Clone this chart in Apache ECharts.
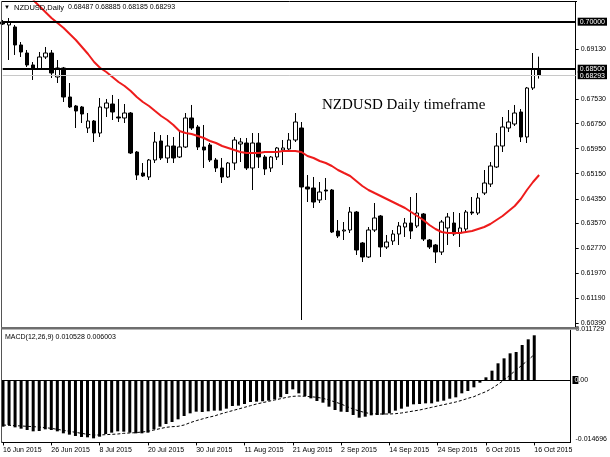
<!DOCTYPE html>
<html><head><meta charset="utf-8">
<script src="https://cdn.jsdelivr.net/npm/echarts@6/dist/echarts.min.js"></script>
<style>html,body{margin:0;padding:0;background:#fff}#c{width:610px;height:457px}</style>
</head><body><div id="c"></div>
<script>
// ---- categories (trading days) ----
const junDays=[16,17,18,19,22,23,24,25,26,29,30];
const julDays=[1,2,3,6,7,8,9,10,13,14,15,16,17,20,21,22,23,24,27,28,29,30,31];
const augDays=[3,4,5,6,7,10,11,12,13,14,17,18,19,20,21,24,25,26,27,28,31];
const sepDays=[1,2,3,4,7,8,9,10,11,14,15,16,17,18,21,22,23,24,25,28,29,30];
const octDays=[1,2,5,6,7,8,9,12,13,14,15,16];
const dates=[].concat(junDays.map(d=>d+' Jun 2015'),julDays.map(d=>d+' Jul 2015'),augDays.map(d=>d+' Aug 2015'),sepDays.map(d=>d+' Sep 2015'),octDays.map(d=>d+' Oct 2015'));
const rightShift=['','','','','',''];
const categories=dates.concat(rightShift);

// ---- price data ----
const open=[0.69990,0.69895,0.69831,0.69257,0.69001,0.68619,0.68491,0.68874,0.69001,0.68236,
0.68523,0.67598,0.67311,0.67279,0.66609,0.66832,0.66449,0.67247,0.67374,0.66960,
0.66928,0.67087,0.65843,0.65173,0.65046,0.65588,0.66194,0.65652,0.66035,0.65684,
0.66003,0.66928,0.66641,0.66003,0.66067,0.65588,0.65333,0.65046,0.65492,0.66098,
0.66130,0.65333,0.66130,0.65684,0.65333,0.65684,0.65907,0.65939,0.66226,0.66609,
0.64727,0.64695,0.64312,0.64631,0.64631,0.63323,0.63323,0.63355,0.63929,0.62941,
0.62494,0.63355,0.63802,0.62813,0.63004,0.63227,0.63451,0.63578,0.63483,0.63866,
0.63036,0.62877,0.62653,0.63419,0.63578,0.63259,0.63387,0.63929,0.63897,0.64535,
0.64822,0.65365,0.66035,0.66609,0.66736,0.67119,0.66322,0.67885,0.68487];
const close=[0.69926,0.69990,0.69257,0.69033,0.68619,0.68523,0.68874,0.69001,0.68363,0.68523,
0.67598,0.67279,0.67151,0.67055,0.66832,0.66449,0.67279,0.67406,0.67119,0.66928,
0.67087,0.65811,0.65109,0.65078,0.65588,0.66162,0.65652,0.66035,0.65652,0.66003,
0.66928,0.66609,0.66003,0.65907,0.65588,0.65333,0.65046,0.65492,0.66226,0.66162,
0.65333,0.66130,0.65684,0.65301,0.65684,0.65971,0.65971,0.66226,0.66800,0.64727,
0.64663,0.64248,0.64567,0.64599,0.63291,0.63164,0.63355,0.63929,0.62717,0.62494,
0.63355,0.63738,0.62813,0.62972,0.63227,0.63483,0.63578,0.63323,0.63897,0.63068,
0.62813,0.62653,0.63610,0.63770,0.63227,0.63419,0.63929,0.63897,0.64376,0.64854,
0.65397,0.66035,0.66641,0.66800,0.67087,0.66322,0.67885,0.68491,0.68293];
const low=[0.69895,0.68778,0.68938,0.68874,0.68555,0.68140,0.68459,0.68810,0.68204,0.68044,
0.67438,0.67247,0.66609,0.66768,0.66449,0.66162,0.66322,0.66960,0.66864,0.66800,
0.66768,0.65779,0.64950,0.65046,0.64950,0.65492,0.65588,0.65492,0.65492,0.65652,
0.65971,0.66545,0.65907,0.65333,0.65524,0.65205,0.64854,0.65014,0.65269,0.65524,
0.65269,0.64631,0.65333,0.65109,0.65205,0.65588,0.65428,0.65843,0.66162,0.60484,
0.64248,0.64057,0.64216,0.64312,0.63259,0.63100,0.63036,0.63259,0.62558,0.62334,
0.62462,0.63291,0.62494,0.62749,0.62877,0.62877,0.63132,0.63068,0.63419,0.63004,
0.62749,0.62302,0.62558,0.62877,0.63164,0.62813,0.63291,0.63834,0.63834,0.64471,
0.64727,0.65333,0.65843,0.66481,0.66673,0.66162,0.66130,0.67821,0.68185];
const high=[0.70054,0.70118,0.69895,0.69352,0.69097,0.68714,0.69033,0.69193,0.69097,0.68778,
0.68555,0.68044,0.67343,0.67311,0.67087,0.66864,0.67566,0.67534,0.67662,0.67534,
0.67374,0.67119,0.65875,0.65492,0.65620,0.66481,0.66385,0.66385,0.66322,0.66481,
0.67087,0.67343,0.66705,0.66705,0.66130,0.65652,0.65652,0.65524,0.66322,0.66290,
0.66290,0.66449,0.66449,0.65747,0.65716,0.66003,0.66226,0.66449,0.67087,0.66800,
0.65109,0.65046,0.64886,0.65014,0.64663,0.63674,0.63610,0.64089,0.63961,0.62972,
0.63451,0.64216,0.63834,0.63196,0.63355,0.63610,0.63738,0.64408,0.64535,0.63897,
0.63068,0.62909,0.63674,0.63897,0.63929,0.63897,0.63993,0.64408,0.64535,0.65269,
0.65524,0.66449,0.66960,0.67183,0.67343,0.67215,0.67917,0.69001,0.68885];
// red moving average
const ma=[null,null,null,null,null,0.70692,0.70501,0.70309,0.70118,0.69958,
0.69799,0.69607,0.69416,0.69193,0.68969,0.68714,0.68523,0.68395,0.68236,0.68076,
0.67949,0.67789,0.67598,0.67438,0.67311,0.67151,0.66992,0.66864,0.66705,0.66513,
0.66449,0.66417,0.66354,0.66290,0.66194,0.66130,0.66035,0.65971,0.65907,0.65843,
0.65811,0.65811,0.65811,0.65843,0.65843,0.65843,0.65875,0.65875,0.65875,0.65843,
0.65716,0.65652,0.65556,0.65492,0.65397,0.65269,0.65173,0.65078,0.64918,0.64758,
0.64631,0.64535,0.64440,0.64344,0.64248,0.64152,0.64057,0.63929,0.63802,0.63674,
0.63515,0.63387,0.63291,0.63259,0.63259,0.63259,0.63291,0.63323,0.63387,0.63451,
0.63546,0.63674,0.63802,0.63961,0.64121,0.64344,0.64631,0.64886,0.65109];

// ---- MACD (12,26,9) ----
const macdHist=[-0.01099,-0.01060,-0.01115,-0.01146,-0.01178,-0.01209,-0.01201,-0.01162,-0.01178,-0.01209,
-0.01256,-0.01287,-0.01319,-0.01342,-0.01350,-0.01374,-0.01335,-0.01272,-0.01240,-0.01209,
-0.01217,-0.01240,-0.01256,-0.01256,-0.01240,-0.01162,-0.01099,-0.01036,-0.00989,-0.00926,
-0.00848,-0.00785,-0.00746,-0.00754,-0.00738,-0.00722,-0.00722,-0.00675,-0.00612,-0.00604,
-0.00565,-0.00518,-0.00510,-0.00502,-0.00487,-0.00455,-0.00408,-0.00330,-0.00220,-0.00314,
-0.00377,-0.00432,-0.00495,-0.00534,-0.00628,-0.00707,-0.00746,-0.00754,-0.00824,-0.00887,
-0.00864,-0.00832,-0.00824,-0.00816,-0.00785,-0.00722,-0.00675,-0.00628,-0.00573,-0.00565,
-0.00550,-0.00550,-0.00510,-0.00487,-0.00440,-0.00408,-0.00314,-0.00259,-0.00173,-0.00063,
0.00063,0.00220,0.00393,0.00510,0.00628,0.00659,0.00824,0.00958,0.010528];
const macdSignal=[-0.01060,-0.01068,-0.01075,-0.01083,-0.01091,-0.01099,-0.01107,-0.01123,-0.01138,-0.01162,
-0.01185,-0.01209,-0.01232,-0.01256,-0.01280,-0.01295,-0.01295,-0.01287,-0.01280,-0.01272,
-0.01256,-0.01248,-0.01240,-0.01225,-0.01209,-0.01178,-0.01146,-0.01115,-0.01099,-0.01091,
-0.01060,-0.01005,-0.00958,-0.00918,-0.00879,-0.00848,-0.00801,-0.00761,-0.00722,-0.00683,
-0.00644,-0.00604,-0.00565,-0.00534,-0.00502,-0.00471,-0.00440,-0.00408,-0.00385,-0.00377,
-0.00385,-0.00393,-0.00408,-0.00432,-0.00471,-0.00518,-0.00565,-0.00628,-0.00683,-0.00730,
-0.00769,-0.00793,-0.00801,-0.00801,-0.00801,-0.00793,-0.00777,-0.00754,-0.00730,-0.00707,
-0.00675,-0.00644,-0.00612,-0.00581,-0.00550,-0.00518,-0.00479,-0.00432,-0.00393,-0.00330,
-0.00275,-0.00196,-0.00102,0.00000,0.00118,0.00236,0.00353,0.00471,0.006003];

// ---- axis tick labels ----
const priceTicks=[0.69130,0.67530,0.66750,0.65950,0.65150,0.64350,0.63570,0.62770,0.61970,0.61190,0.60390];
const levelLines=[0.70000,0.68500];
const bidPrice=0.68293;
const macdTicks=[0.011729,0,-0.014696];
const macdMin=-0.014696, macdMax=0.011729;

const FONT='"Liberation Sans", Arial, sans-serif';
const candleData=dates.map((d,i)=>[open[i],close[i],low[i],high[i]]);
const specials=levelLines.concat([bidPrice]);
const isSpecial=v=>specials.some(s=>Math.abs(s-v)<1e-7);

const chart=echarts.init(document.getElementById('c'),null,{renderer:'canvas'});
chart.setOption({
  animation:false,
  backgroundColor:'#fff',
  grid:[
    {left:2.7,right:33,top:1.5,height:325.5,show:false},
    {left:2.7,right:33,top:330.2,height:112.2,show:false}
  ],
  xAxis:[
    {type:'category',gridIndex:0,data:categories,boundaryGap:false,show:false},
    {type:'category',gridIndex:1,data:categories,boundaryGap:false,
     axisLine:{show:true,onZero:false,lineStyle:{color:'#000',width:1}},
     axisTick:{show:true,length:3,interval:(i)=>i%8===0&&i<dates.length,lineStyle:{color:'#000'}},
     axisLabel:{show:true,interval:(i)=>i%8===0&&i<dates.length,align:'left',margin:4,fontSize:7,color:'#000',fontFamily:FONT},
     splitLine:{show:false}}
  ],
  yAxis:[
    {type:'value',gridIndex:0,position:'right',min:0.60261,max:0.70644,
     axisLine:{show:true,lineStyle:{color:'#000',width:1}},
     axisTick:{show:true,inside:false,length:3,customValues:priceTicks,lineStyle:{color:'#000'}},
     axisLabel:{show:true,margin:2,customValues:[0.70000,0.68500,0.68293].concat(priceTicks),
       formatter:v=>isSpecial(v)?'{b|'+v.toFixed(5)+'}':'{n|'+v.toFixed(5)+'}',
       rich:{b:{backgroundColor:'#000',color:'#fff',fontSize:7,fontFamily:FONT,padding:[1,2,0,2]},
             n:{color:'#000',fontSize:7,fontFamily:FONT,padding:[0,0,0,3]}}},
     splitLine:{show:false}},
    {type:'value',gridIndex:1,position:'right',min:macdMin,max:macdMax,
     axisLine:{show:true,lineStyle:{color:'#000',width:1}},
     axisTick:{show:false},
     axisLabel:{show:true,margin:2,customValues:macdTicks,
       formatter:v=>{ if(Math.abs(v)<1e-9) return '{b|0}{n0|.00}'; if(v<0) return '{lo|'+v.toFixed(6)+'}'; return '{hi|'+v.toFixed(6)+'}'; },
       rich:{b:{backgroundColor:'#000',color:'#fff',fontSize:7,fontFamily:FONT,padding:[1,0,0,2]},
             n0:{color:'#000',fontSize:7,fontFamily:FONT},
             lo:{color:'#000',fontSize:7,fontFamily:FONT,padding:[0,0,6,3]},
             hi:{color:'#000',fontSize:7,fontFamily:FONT,padding:[0,0,2,3]}}},
     splitLine:{show:false}}
  ],
  series:[
    {type:'candlestick',xAxisIndex:0,yAxisIndex:0,data:candleData,barWidth:4,
     itemStyle:{color:'#fff',color0:'#000',borderColor:'#000',borderColor0:'#000',borderWidth:1}},
    {type:'line',xAxisIndex:0,yAxisIndex:0,data:ma,symbol:'none',showSymbol:false,
     lineStyle:{color:'#ee1c1c',width:2},itemStyle:{color:'#ee1c1c'},z:3,
     markLine:{silent:true,precision:6,symbol:['none','none'],label:{show:false},animation:false,
       data:[
         {yAxis:levelLines[0],lineStyle:{color:'#000',width:2,type:'solid'}},
         {yAxis:levelLines[1],lineStyle:{color:'#000',width:2,type:'solid'}},
         {yAxis:bidPrice,lineStyle:{color:'#c8c8c8',width:1,type:'solid'}}
       ]}},
    {type:'bar',xAxisIndex:1,yAxisIndex:1,data:macdHist,barWidth:3,itemStyle:{color:'#000'},
     markLine:{silent:true,precision:6,symbol:['none','none'],label:{show:false},animation:false,
       data:[{yAxis:0,lineStyle:{color:'#000',width:1,type:'solid'}}]}},
    {type:'line',xAxisIndex:1,yAxisIndex:1,data:macdSignal,symbol:'none',showSymbol:false,
     lineStyle:{color:'#000',width:1,type:[3,2]},z:4}
  ],
  graphic:[
    {type:'line',shape:{x1:1.5,y1:1.5,x2:577,y2:1.5},style:{stroke:'#000',lineWidth:1},z:10},
    {type:'line',shape:{x1:1.5,y1:1.5,x2:1.5,y2:442.5},style:{stroke:'#555',lineWidth:1},z:10},
    {type:'line',shape:{x1:1.5,y1:442.4,x2:3,y2:442.4},style:{stroke:'#000',lineWidth:1},z:10},
    {type:'rect',shape:{x:1,y:327,width:577,height:2.5},style:{fill:'#6e6e6e'},z:10},
    {type:'text',x:4,y:7,style:{text:'\u25BC',font:'6px '+FONT,fill:'#000',verticalAlign:'middle',textVerticalAlign:'middle'},z:10},
    {type:'text',x:14,y:7.5,style:{text:'NZDUSD,Daily',font:'7.5px '+FONT,fill:'#000',verticalAlign:'middle',textVerticalAlign:'middle'},z:10},
    {type:'text',x:68,y:7.5,style:{text:'0.68487 0.68885 0.68185 0.68293',font:'7px '+FONT,fill:'#000',verticalAlign:'middle',textVerticalAlign:'middle'},z:10},
    {type:'text',x:5,y:337.5,style:{text:'MACD(12,26,9) 0.010528 0.006003',font:'7px '+FONT,fill:'#000',verticalAlign:'middle',textVerticalAlign:'middle'},z:10},
    {type:'text',x:322,y:105,style:{text:'NZDUSD Daily timeframe',font:'15px "Liberation Serif", "Times New Roman", serif',fill:'#000',verticalAlign:'middle',textVerticalAlign:'middle'},z:10}
  ]
});
</script></body></html>
